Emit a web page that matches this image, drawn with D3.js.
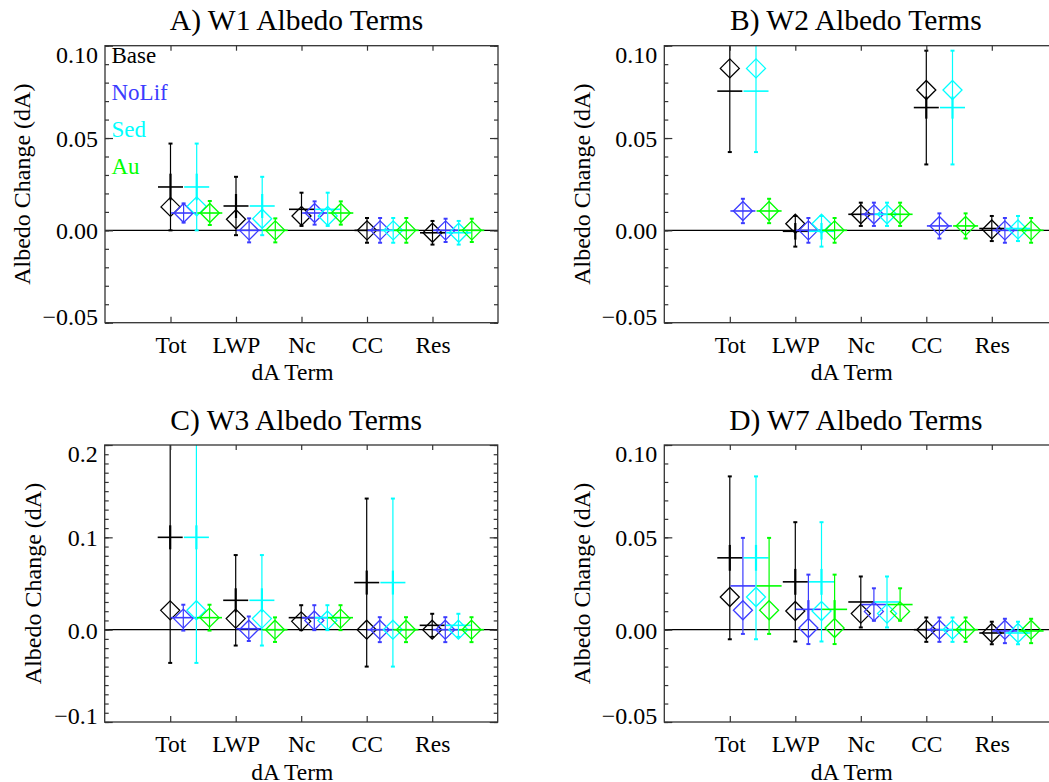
<!DOCTYPE html>
<html><head><meta charset="utf-8">
<script src="https://cdn.jsdelivr.net/npm/d3@7"></script>
<style>
html,body{margin:0;padding:0;background:#fff;overflow:hidden}
svg{display:block}
</style></head><body>
<svg id="fig" width="1049" height="782"></svg>
<script>
// Albedo-change decomposition terms for four cases, each with four runs.
const categories = ["Tot", "LWP", "Nc", "CC", "Res"];
const seriesNames = ["Base", "NoLif", "Sed", "Au"];
const seriesColors = ["#000000", "#3c3cff", "#00ffff", "#00ff00"];
const FONT = '"Liberation Serif"';

// Diamonds: per-series values (rows = Base, NoLif, Sed, Au; columns = categories)
// Crosses: mean value, error half-width and standard-error half-width
const W1_DIAMOND = [
  [0.0127, 0.0060, 0.0078, 0.0000, -0.0013],
  [0.0094, 0.0000, 0.0094, 0.0000, 0.0000],
  [0.0130, 0.0063, 0.0078, 0.0000, -0.0013],
  [0.0094, 0.0000, 0.0094, 0.0000, 0.0000]];
const W1_CROSS = [
  [0.0235, 0.0132, 0.0114, 0.0000, -0.0013],
  [0.0094, 0.0000, 0.0094, 0.0000, 0.0000],
  [0.0235, 0.0132, 0.0114, 0.0000, -0.0013],
  [0.0094, 0.0000, 0.0094, 0.0000, 0.0000]];
const W1_ERR = [
  [0.0235, 0.0158, 0.0090, 0.0067, 0.0064],
  [0.0052, 0.0065, 0.0063, 0.0067, 0.0063],
  [0.0235, 0.0158, 0.0090, 0.0067, 0.0064],
  [0.0065, 0.0065, 0.0063, 0.0067, 0.0063]];
const W1_SE = [
  [0.0072, 0.0065, 0.0, 0.0, 0.0],
  [0.0, 0.0, 0.0, 0.0, 0.0],
  [0.0072, 0.0065, 0.0, 0.0, 0.0],
  [0.0, 0.0, 0.0, 0.0, 0.0]];

const W2_DIAMOND = [
  [0.0877, 0.0036, 0.0087, 0.0760, 0.0005],
  [0.0105, 0.0000, 0.0087, 0.0024, 0.0000],
  [0.0877, 0.0036, 0.0087, 0.0760, 0.0005],
  [0.0105, 0.0000, 0.0087, 0.0024, 0.0000]];
const W2_CROSS = [
  [0.0754, -0.0005, 0.0087, 0.0665, 0.0010],
  [0.0105, 0.0000, 0.0087, 0.0024, 0.0000],
  [0.0754, -0.0005, 0.0087, 0.0665, 0.0010],
  [0.0105, 0.0000, 0.0087, 0.0024, 0.0000]];
const W2_ERR = [
  [0.0330, 0.0083, 0.0063, 0.0308, 0.0068],
  [0.0066, 0.0067, 0.0063, 0.0068, 0.0067],
  [0.0330, 0.0083, 0.0063, 0.0308, 0.0068],
  [0.0066, 0.0067, 0.0063, 0.0068, 0.0067]];
const W2_SE = [
  [0.0, 0.0045, 0.0, 0.0060, 0.0],
  [0.0, 0.0, 0.0, 0.0, 0.0],
  [0.0, 0.0045, 0.0, 0.0060, 0.0],
  [0.0, 0.0, 0.0, 0.0, 0.0]];

const W3_DIAMOND = [
  [0.0209, 0.0120, 0.0090, 0.0000, 0.0000],
  [0.0120, 0.0000, 0.0100, 0.0000, 0.0000],
  [0.0210, 0.0120, 0.0100, 0.0000, 0.0000],
  [0.0130, 0.0000, 0.0120, 0.0000, 0.0000]];
const W3_CROSS = [
  [0.1000, 0.0318, 0.0130, 0.0510, 0.0047],
  [0.0130, 0.0010, 0.0130, 0.0000, 0.0000],
  [0.1000, 0.0318, 0.0130, 0.0510, 0.0047],
  [0.0130, 0.0000, 0.0130, 0.0000, 0.0000]];
const W3_ERR = [
  [0.1360, 0.0490, 0.0135, 0.0910, 0.0125],
  [0.0140, 0.0133, 0.0135, 0.0135, 0.0135],
  [0.1360, 0.0490, 0.0135, 0.0910, 0.0125],
  [0.0140, 0.0133, 0.0135, 0.0135, 0.0135]];
const W3_SE = [
  [0.0130, 0.0130, 0.0, 0.0130, 0.0],
  [0.0, 0.0, 0.0, 0.0, 0.0],
  [0.0130, 0.0130, 0.0, 0.0130, 0.0],
  [0.0, 0.0, 0.0, 0.0, 0.0]];

const W7_DIAMOND = [
  [0.0177, 0.0101, 0.0087, 0.0000, -0.0018],
  [0.0105, 0.0009, 0.0099, 0.0000, 0.0000],
  [0.0177, 0.0101, 0.0087, 0.0000, -0.0018],
  [0.0105, 0.0009, 0.0099, 0.0000, 0.0000]];
const W7_CROSS = [
  [0.0389, 0.0259, 0.0150, 0.0000, -0.0018],
  [0.0237, 0.0110, 0.0136, 0.0000, -0.0007],
  [0.0389, 0.0259, 0.0150, 0.0000, -0.0018],
  [0.0237, 0.0110, 0.0136, 0.0000, -0.0007]];
const W7_ERR = [
  [0.0441, 0.0323, 0.0138, 0.0066, 0.0061],
  [0.0260, 0.0188, 0.0088, 0.0066, 0.0066],
  [0.0441, 0.0323, 0.0138, 0.0066, 0.0061],
  [0.0260, 0.0188, 0.0088, 0.0066, 0.0066]];
const W7_SE = [
  [0.0070, 0.0070, 0.0, 0.0, 0.0],
  [0.0, 0.0050, 0.0, 0.0, 0.0],
  [0.0070, 0.0070, 0.0, 0.0, 0.0],
  [0.0, 0.0050, 0.0, 0.0, 0.0]];

const panelTitles = ["A) W1 Albedo Terms", "B) W2 Albedo Terms", "C) W3 Albedo Terms", "D) W7 Albedo Terms"];
const yMajorSmall = [-0.05, 0.00, 0.05, 0.10];
const yMajorLarge = [-0.1, 0.0, 0.1, 0.2];
const yTitle = "Albedo Change (dA)";
const xTitle = "dA Term";

// Layout
const PW = 393, PH = 277;
const panels = [
  {title: panelTitles[0], left: 105, top: 45.7, d: W1_DIAMOND, c: W1_CROSS, e: W1_ERR, s: W1_SE,
   dom: [-0.05, 0.10], major: yMajorSmall, minorStep: 0.01, fmt: d3.format(".2f"), ylabX: 30, legend: true},
  {title: panelTitles[1], left: 664.3, top: 45.7, d: W2_DIAMOND, c: W2_CROSS, e: W2_ERR, s: W2_SE,
   dom: [-0.05, 0.10], major: yMajorSmall, minorStep: 0.01, fmt: d3.format(".2f"), ylabX: 589.5},
  {title: panelTitles[2], left: 104.7, top: 445, d: W3_DIAMOND, c: W3_CROSS, e: W3_ERR, s: W3_SE,
   dom: [-0.1, 0.2], major: yMajorLarge, minorStep: 0.01, fmt: d3.format(".1f"), ylabX: 41},
  {title: panelTitles[3], left: 664.3, top: 445, d: W7_DIAMOND, c: W7_CROSS, e: W7_ERR, s: W7_SE,
   dom: [-0.05, 0.10], major: yMajorSmall, minorStep: 0.01, fmt: d3.format(".2f"), ylabX: 589.5}
];

const svg = d3.select("#fig");
const axisColor = "#333";
const seriesOffset = 0.2;   // x-units between runs within a term
const armHalf = 12.5;       // half-length of cross arm, px
const diamondHalf = 9.5;

// text styling helper
const setFont = (sel, size) => sel.attr("font-size", size).style("font-family", FONT);

// tick-only axis: strip the domain path and the empty label nodes
const styleTicks = sel => {
  sel.select(".domain").remove();
  sel.selectAll("text").remove();
  sel.attr("font-family", null).attr("font-size", null);
  sel.selectAll("line").attr("stroke", axisColor).attr("stroke-width", 1.2);
};

panels.forEach((p, pi) => {
  const x = d3.scaleLinear().domain([0, 6]).range([p.left, p.left + PW]);
  const y = d3.scaleLinear().domain(p.dom).range([p.top + PH, p.top]);
  // values beyond the axis range stop at the frame
  const clampV = v => Math.max(p.dom[0], Math.min(p.dom[1], v));
  const g = svg.append("g");

  // panel texts
  g.append("text").attr("x", p.left + PW / 2 - 5).attr("y", p.top - 15.5)
    .attr("text-anchor", "middle").call(setFont, 29.5).text(p.title);
  g.append("text").attr("transform", `translate(${p.ylabX},${p.top + PH / 2}) rotate(-90)`)
    .attr("text-anchor", "middle").call(setFont, 24).text(yTitle);
  g.append("text").attr("x", p.left + PW / 2 - 9).attr("y", p.top + PH + 57.5)
    .attr("text-anchor", "middle").call(setFont, 23.5).text(xTitle);

  const marks = g.append("g");
  const xRight = Math.min(p.left + PW, 1049);

  // zero reference line
  marks.append("line")
    .attr("x1", p.left).attr("x2", p.left + PW)
    .attr("y1", y(0)).attr("y2", y(0))
    .attr("stroke", "#000").attr("stroke-width", 1.1);

  seriesNames.forEach((name, si) => {
    const col = seriesColors[si];
    const sg = marks.append("g").attr("stroke", col).attr("fill", "none");
    categories.forEach((cat, ci) => {
      const cx = x(ci + 1 + si * seriesOffset);
      const m = p.c[si][ci], err = p.e[si][ci], se = p.s[si][ci], dv = p.d[si][ci];
      const lo = m - err, hi = m + err;
      // error bar
      sg.append("line").attr("x1", cx).attr("x2", cx)
        .attr("y1", y(clampV(lo))).attr("y2", y(clampV(hi))).attr("stroke-width", 1.2);
      [lo, hi].filter(v => v >= p.dom[0] && v <= p.dom[1]).forEach(v => {
        sg.append("line").attr("x1", cx - 2).attr("x2", cx + 2)
          .attr("y1", y(v)).attr("y2", y(v)).attr("stroke-width", 2);
      });
      if (se > 0) {
        sg.append("line").attr("x1", cx).attr("x2", cx)
          .attr("y1", y(clampV(m - se))).attr("y2", y(clampV(m + se))).attr("stroke-width", 2.2);
      }
      // cross arm at mean
      sg.append("line").attr("x1", cx - armHalf).attr("x2", cx + armHalf)
        .attr("y1", y(m)).attr("y2", y(m)).attr("stroke-width", 1.6);
      // diamond
      const dy = y(dv);
      sg.append("path")
        .attr("d", `M${cx},${dy - diamondHalf}L${cx + diamondHalf},${dy}L${cx},${dy + diamondHalf}L${cx - diamondHalf},${dy}Z`)
        .attr("stroke-width", 1.3);
    });
  });

  // frame
  g.append("rect").attr("x", p.left).attr("y", p.top).attr("width", PW).attr("height", PH)
    .attr("fill", "none").attr("stroke", axisColor).attr("stroke-width", 1.3);

  const minor = d3.range(Math.round(p.dom[0] / p.minorStep), Math.round(p.dom[1] / p.minorStep) + 1)
    .map(k => k * p.minorStep);
  // left & right minor/major ticks
  g.append("g").attr("transform", `translate(${p.left},0)`)
    .call(d3.axisLeft(y).tickValues(minor).tickSize(-4).tickFormat("")).call(styleTicks);
  g.append("g").attr("transform", `translate(${p.left},0)`)
    .call(d3.axisLeft(y).tickValues(p.major).tickSize(-8).tickFormat("")).call(styleTicks);
  g.append("g").attr("transform", `translate(${p.left + PW},0)`)
    .call(d3.axisRight(y).tickValues(minor).tickSize(-4).tickFormat("")).call(styleTicks);
  g.append("g").attr("transform", `translate(${p.left + PW},0)`)
    .call(d3.axisRight(y).tickValues(p.major).tickSize(-8).tickFormat("")).call(styleTicks);
  // category ticks top & bottom
  const catIdx = categories.map((c, i) => i + 1);
  g.append("g").attr("transform", `translate(0,${p.top + PH})`)
    .call(d3.axisBottom(x).tickValues(catIdx).tickSize(-6).tickFormat("")).call(styleTicks);
  g.append("g").attr("transform", `translate(0,${p.top})`)
    .call(d3.axisTop(x).tickValues(catIdx).tickSize(-5).tickFormat("")).call(styleTicks);

  // y tick labels
  const yl = g.append("g").attr("transform", `translate(${p.left},0)`)
    .call(d3.axisLeft(y).tickValues(p.major).tickSize(0).tickPadding(7).tickFormat(p.fmt));
  yl.select(".domain").remove();
  yl.attr("font-family", null).attr("font-size", null);
  yl.selectAll("line").remove();
  yl.selectAll("text").call(setFont, 24).attr("fill", "#000")
    .attr("dy", v => v === p.dom[1] ? "0.68em" : v === p.dom[0] ? "0.06em" : "0.35em");

  // category labels
  const xl = g.append("g").attr("transform", `translate(0,${p.top + PH})`)
    .call(d3.axisBottom(x).tickValues(catIdx).tickSize(0).tickPadding(0)
      .tickFormat(i => categories[i - 1]));
  xl.select(".domain").remove();
  xl.attr("font-family", null).attr("font-size", null);
  xl.selectAll("line").remove();
  xl.selectAll("text").call(setFont, 23.5).attr("fill", "#000").attr("y", 30).attr("dy", 0);

  if (p.legend) {
    const lg = g.append("g");
    seriesNames.forEach((name, si) => {
      lg.append("text").attr("x", p.left + 6.5).attr("y", p.top + 17.6 + si * 37)
        .call(setFont, 23).attr("fill", seriesColors[si]).text(name);
    });
  }
});
</script>
</body></html>
